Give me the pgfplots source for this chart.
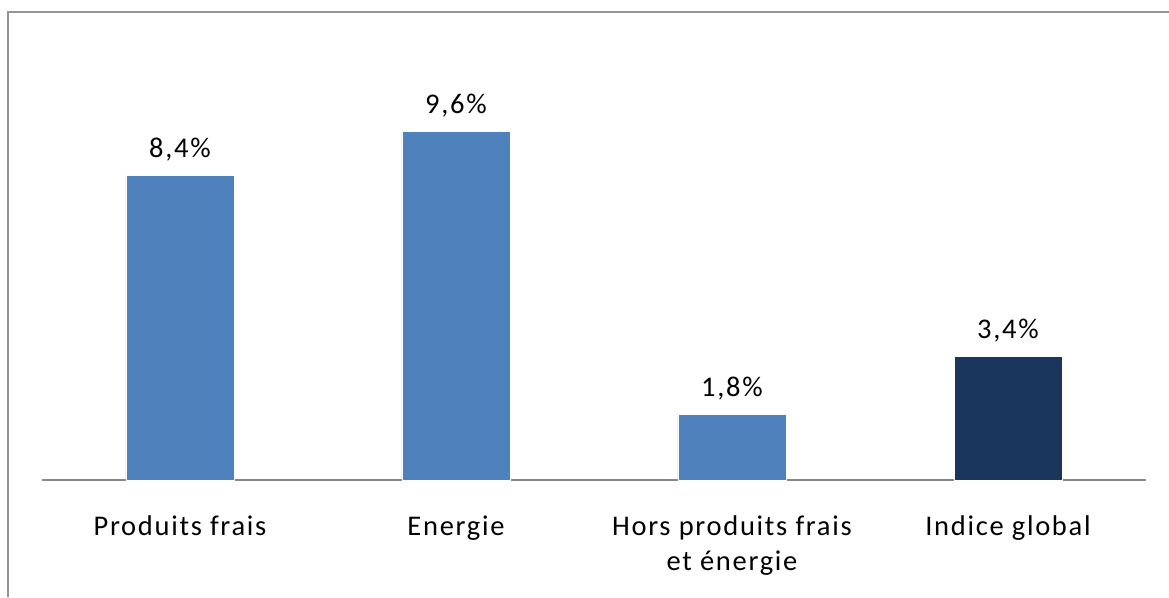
\documentclass[border=0pt]{standalone}
\usepackage{pgfplots}
\pgfplotsset{compat=1.18}
\usepackage{fontspec}
\setmainfont{Carlito}[LetterSpace=6]
\definecolor{barblue}{HTML}{4F81BD}
\definecolor{bardark}{HTML}{1B365D}
\definecolor{framegray}{HTML}{959595}
\definecolor{axisgray}{HTML}{888888}
\begin{document}
\begin{tikzpicture}[x=1pt,y=1pt]
\useasboundingbox (0,0) rectangle (1169,597);
\draw[framegray, line width=2.5pt] (8,0) -- (8,585) -- (1169,585);
\begin{axis}[
  at={(42pt,117pt)}, anchor=south west,
  width=1104pt, height=435.6pt, scale only axis,
  xmin=-0.5, xmax=3.5, ymin=0, ymax=12,
  axis y line=none,
  axis x line*=bottom,
  x axis line style={axisgray, line width=1.6pt, -},
  xtick={0,1,2,3},
  xticklabels={Produits frais, Energie, {Hors produits frais\\et énergie}, Indice global},
  major tick length=0pt,
  xticklabel style={font=\fontsize{28.5}{35}\selectfont, align=center, anchor=north, inner sep=0pt, yshift=-36pt},
  ybar, bar width=108pt, bar shift=0pt,
  point meta=explicit symbolic,
  nodes near coords,
  every node near coord/.append style={font=\fontsize{28.5}{31}\selectfont, anchor=base, inner sep=0pt, yshift=18pt},
  clip=false,
]
\addplot[fill=barblue, draw=white, line width=0.8pt] coordinates {(0,8.4) [8{,}4\%] (1,9.6) [9{,}6\%] (2,1.8) [1{,}8\%]};
\addplot[fill=bardark, draw=white, line width=0.8pt] coordinates {(3,3.4) [3{,}4\%]};
\end{axis}
\end{tikzpicture}
\end{document}
